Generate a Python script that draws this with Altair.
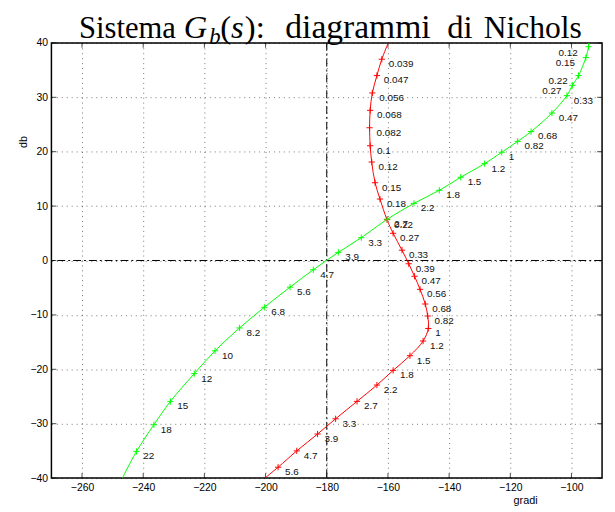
import altair as alt
import pandas as pd

# ---------------- data ----------------
red_labels = ["0.039", "0.047", "0.056", "0.068", "0.082", "0.1", "0.12", "0.15", "0.18",
              "0.22", "0.27", "0.33", "0.39", "0.47", "0.56", "0.68", "0.82", "1", "1.2",
              "1.5", "1.8", "2.2", "2.7", "3.3", "3.9", "4.7", "5.6"]
red_phase = [-162.0, -163.6, -165.1, -165.8, -166.0, -165.8, -165.3, -164.2, -162.6,
             -160.3, -158.3, -155.4, -153.2, -151.3, -149.5, -147.8, -147.0, -146.8, -148.5,
             -152.8, -158.3, -163.6, -170.1, -177.1, -183.0, -189.8, -195.9]
red_mag = [37.0, 34.0, 30.8, 27.6, 24.4, 21.1, 18.1, 14.3, 11.3,
           7.5, 5.0, 1.9, -0.6, -2.9, -5.3, -8.0, -10.2, -12.5, -14.8,
           -17.5, -20.2, -22.9, -25.9, -29.1, -31.9, -35.0, -38.0]
red_ends_phase = [-159.9, -200.2]
red_ends_mag = [40.0, -40.0]

green_labels = ["0.12", "0.15", "0.22", "0.27", "0.33", "0.47", "0.68", "0.82", "1", "1.2",
                "1.5", "1.8", "2.2", "2.7", "3.3", "3.9", "4.7", "5.6", "6.8", "8.2",
                "10", "12", "15", "18", "22"]
green_phase = [-94.4, -95.3, -97.7, -99.7, -101.5, -106.4, -113.2, -117.6, -122.8, -128.4,
               -136.2, -143.2, -151.5, -160.2, -168.7, -176.2, -184.4, -192.0, -200.4, -208.5,
               -216.5, -223.3, -231.1, -236.5, -242.2]
green_mag = [39.3, 37.3, 34.0, 32.2, 30.3, 27.1, 23.7, 21.9, 19.9, 17.8,
             15.3, 12.9, 10.5, 7.6, 4.2, 1.5, -1.7, -4.9, -8.6, -12.4,
             -16.6, -20.8, -25.9, -30.2, -35.1]
green_ends_phase = [-94.2, -246.8]
green_ends_mag = [40.0, -40.0]
green_left_count = 4  # first labels written on the left of the curve

x_ticks = [-260, -240, -220, -200, -180, -160, -140, -120, -100]
y_ticks = [-40, -30, -20, -10, 0, 10, 20, 30, 40]
x_domain = [-270, -90]
y_domain = [-40, 40]

# ---------------- styling ----------------
W, H = 558, 441
RED, GREEN = "#ff0000", "#00ff00"
PLUS = "M-1,0L1,0M0,-1L0,1"
SANS = "Liberation Sans"
SERIF = "Liberation Serif"


def curve_df(phase, mag, ends_p, ends_m):
    p = [ends_p[0]] + list(phase) + [ends_p[1]]
    m = [ends_m[0]] + list(mag) + [ends_m[1]]
    return pd.DataFrame({"phase": p, "mag": m, "i": list(range(len(p)))})


red_line = curve_df(red_phase, red_mag, red_ends_phase, red_ends_mag)
green_line = curve_df(green_phase, green_mag, green_ends_phase, green_ends_mag)
red_pts = pd.DataFrame({"phase": red_phase, "mag": red_mag, "lab": red_labels})
green_pts = pd.DataFrame({"phase": green_phase, "mag": green_mag, "lab": green_labels})

xs = alt.Scale(domain=x_domain, nice=False, zero=False)
ys = alt.Scale(domain=y_domain, nice=False, zero=False)

xaxis = alt.Axis(values=x_ticks, format="d", title="gradi", grid=True, gridDash=[1, 4],
                 gridColor="#000000", gridOpacity=0.55, gridWidth=1, ticks=False, domain=False,
                 labelFont=SANS, labelFontSize=10.5, labelColor="#000000", labelPadding=5,
                 titleFont=SANS, titleFontSize=11, titleFontWeight="normal", titleColor="#000000",
                 titleX=480, titleY=23, titleAlign="center", titleBaseline="middle")
yaxis = alt.Axis(values=y_ticks, format="d", title="db", grid=True, gridDash=[1, 4],
                 gridColor="#000000", gridOpacity=0.55, gridWidth=1, ticks=False, domain=False,
                 labelFont=SANS, labelFontSize=10.5, labelColor="#000000", labelPadding=4,
                 titleFont=SANS, titleFontSize=11, titleFontWeight="normal", titleColor="#000000",
                 titleX=-28, titleY=100, titleAngle=270, titleAlign="center",
                 titleBaseline="middle")

X = alt.X("phase:Q", scale=xs, axis=xaxis)
Y = alt.Y("mag:Q", scale=ys, axis=yaxis)

layers = []

# inward ticks (bottom/top/left/right)
xt = pd.DataFrame({"phase": x_ticks})
yt = pd.DataFrame({"mag": y_ticks})
for yv in (H - 2.5, 2.5):
    layers.append(alt.Chart(xt).mark_tick(orient="vertical", size=5, thickness=1, color="black")
                  .encode(x=X, y=alt.value(yv)))
for xv in (2.5, W - 2.5):
    layers.append(alt.Chart(yt).mark_tick(orient="horizontal", size=5, thickness=1, color="black")
                  .encode(y=Y, x=alt.value(xv)))

# dash-dot reference lines at -180 deg and 0 dB
layers.append(alt.Chart(pd.DataFrame({"phase": [-180]}))
              .mark_rule(color="black", strokeWidth=1, strokeDash=[8, 3, 2, 3]).encode(x=X))
layers.append(alt.Chart(pd.DataFrame({"mag": [0]}))
              .mark_rule(color="black", strokeWidth=1, strokeDash=[8, 3, 2, 3]).encode(y=Y))

# curves
for df, col in ((red_line, RED), (green_line, GREEN)):
    layers.append(alt.Chart(df).mark_line(color=col, strokeWidth=1, clip=True,
                                          interpolate="catmull-rom")
                  .encode(x=X, y=Y, order="i:Q"))

# markers
for df, col in ((red_pts, RED), (green_pts, GREEN)):
    layers.append(alt.Chart(df).mark_point(shape=PLUS, size=40, filled=False, strokeWidth=1,
                                           color=col, opacity=1)
                  .encode(x=X, y=Y))

# frequency labels
lab_right = pd.concat([red_pts, green_pts.iloc[green_left_count:]])
lab_left = green_pts.iloc[:green_left_count]
layers.append(alt.Chart(lab_right).mark_text(align="left", baseline="middle", dx=7, dy=5,
                                             font=SANS, fontSize=10, color="#111111")
              .encode(x=X, y=Y, text="lab:N"))
layers.append(alt.Chart(lab_left).mark_text(align="right", baseline="middle", dx=-11, dy=6,
                                            font=SANS, fontSize=10, color="#111111")
              .encode(x=X, y=Y, text="lab:N"))

# title: "Sistema G_b(s): diagrammi di Nichols" set piece by piece
TY = -5
title_pieces = [
    ("Sistema", 28, TY, 31, "normal"),
    ("G", 134, TY, 33, "italic"),
    ("b", 160, TY + 6, 23, "italic"),
    ("(", 171, TY, 33, "normal"),
    ("s", 182, TY, 33, "italic"),
    ("):", 196, TY, 33, "normal"),
    ("diagrammi", 237, TY, 34, "normal"),
    ("di", 401, TY, 33, "normal"),
    ("Nichols", 438, TY, 32, "normal"),
]
for txt, px, py, fs, style in title_pieces:
    layers.append(alt.Chart(pd.DataFrame({"t": [txt]}))
                  .mark_text(align="left", baseline="alphabetic", font=SERIF, fontSize=fs,
                             fontStyle=style, color="#000000")
                  .encode(text="t:N", x=alt.value(px), y=alt.value(py)))

chart = (alt.layer(*layers)
         .properties(width=W, height=H,
                     padding={"left": 44, "top": 32, "right": 5, "bottom": 31},
                     autosize=alt.AutoSizeParams(type="none"),
                     background="white")
         .configure_view(stroke="black", strokeWidth=1.5))

chart.save("out.html", embed_options={"renderer": "svg", "actions": False})
